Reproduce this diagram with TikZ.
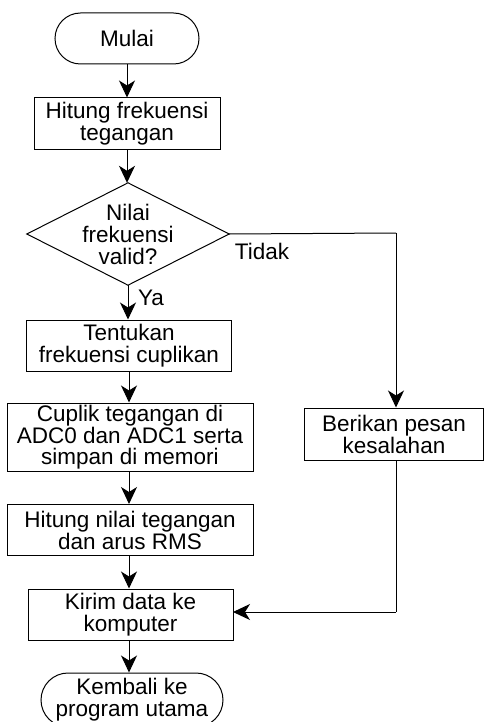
\documentclass[tikz,border=0pt]{standalone}
\usepackage{fontspec}
\setmainfont{Liberation Sans}
\usetikzlibrary{arrows.meta}
\begin{document}
\begin{tikzpicture}[x=1pt,y=-1pt,
  every node/.style={font=\fontsize{22.5}{22}\selectfont, inner sep=0pt, align=center},
  proc/.style={draw, line width=1pt, minimum width=#1},
  term/.style={draw, line width=1pt, rounded corners=25.5pt, minimum width=#1},
  flow/.style={line width=1pt, -{Stealth[length=17pt,width=16pt,inset=5pt]}},
  plain/.style={line width=1pt}]
\useasboundingbox (0,0) rectangle (485,722);

% main column
\node[term=144pt, minimum height=51pt] (mulai) at (127,38.5) {Mulai};
\node[proc=186pt, minimum height=52pt] (hit) at (127,124) {Hitung frekuensi\\tegangan};
\node[minimum width=202pt, minimum height=102pt] (dec) at (128,234) {Nilai\\frekuensi\\valid?};
\draw[line width=1pt] (dec.north) -- (dec.east) -- (dec.south) -- (dec.west) -- cycle;
\node[proc=205pt, minimum height=51pt] (tent) at (129,345.5) {Tentukan\\frekuensi cuplikan};
\node[proc=246pt, minimum height=68pt, font=\fontsize{22.5}{20.5}\selectfont] (cup) at (130,437) {Cuplik tegangan di\\ADC0 dan ADC1 serta\\simpan di memori};
\node[proc=246pt, minimum height=51pt] (rms) at (130,530) {Hitung nilai tegangan\\dan arus RMS};
\node[proc=205pt, minimum height=51pt] (kirim) at (130.5,614.5) {Kirim data ke\\komputer};
\node[term=182pt, minimum height=54pt, rounded corners=27pt] (kembali) at (132,700) {Kembali ke\\program utama};

% error branch
\node[proc=179pt, minimum height=52pt] (beri) at (394,434) {Berikan pesan\\kesalahan};
\coordinate (tr) at (396,233);
\coordinate (br) at (396,612);
\coordinate (kin) at (233,612);

% labels
\node (tidak) at (262,251) {Tidak};
\node (ya) at (151,298) {Ya};

% connectors
\draw[flow] (mulai.south) -- (mulai.south |- hit.north);
\draw[flow] (hit.south) -- (hit.south |- dec.north);
\draw[flow] (dec.south) -- (dec.south |- tent.north);
\draw[flow] (tent.south) -- (tent.south |- cup.north);
\draw[flow] (cup.south -| tent.south) -- (tent.south |- rms.north);
\draw[flow] (rms.south -| tent.south) -- (tent.south |- kirim.north);
\draw[flow] (kirim.south -| tent.south) -- (tent.south |- kembali.north);
\draw[plain] (dec.east) -- (tr);
\draw[flow] (tr) -- (tr |- beri.north);
\draw[plain] (beri.south -| br) -- (br);
\draw[flow] (br) -- (kin);
\end{tikzpicture}
\end{document}
